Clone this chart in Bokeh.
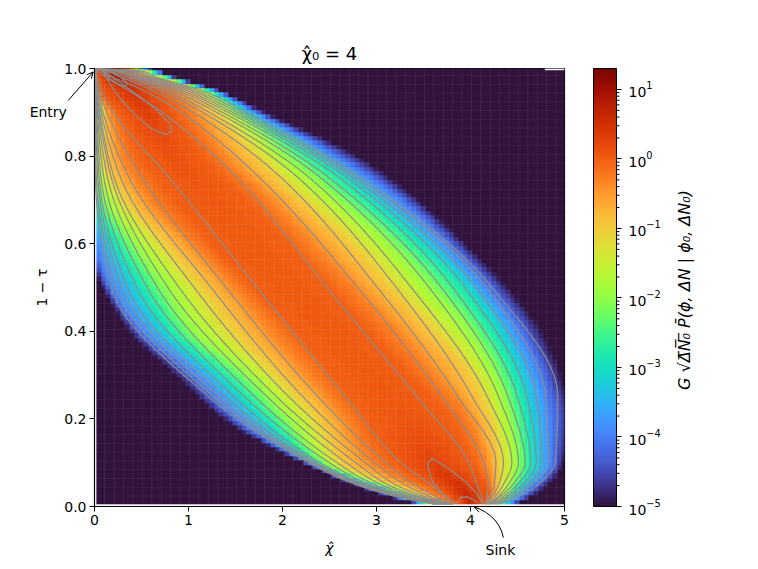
import numpy as np
from bokeh.core.properties import value
from bokeh.embed import file_html
from bokeh.layouts import column
from bokeh.resources import INLINE
from bokeh.plotting import figure
from bokeh.models import (LogColorMapper, ColorBar, LogTicker, LogTickFormatter, FixedTicker, Range1d)
from bokeh.palettes import Turbo256

TITLE = "χ̂₀ = 4"
XLABEL = "χ̂"
YLABEL = "1 − τ"
CBLABEL = "G √Δ̅N̅₀̅  P̄(ϕ, ΔN | ϕ₀, ΔN₀)"
X_TICKS = [0, 1, 2, 3, 4, 5]
Y_TICKS = [0.0, 0.2, 0.4, 0.6, 0.8, 1.0]
Y_TICK_LABELS = {0: "0.0", 0.2: "0.2", 0.4: "0.4", 0.6: "0.6", 0.8: "0.8", 1: "1.0"}
CB_LOW, CB_HIGH = 1e-5, 20
CB_DECADES = [1e-5, 1e-4, 1e-3, 1e-2, 1e-1, 1, 10]
CB_MANTISSAS = [2, 3, 4, 5, 6, 7, 8, 9]

# Heat map: for each row (value of 1-tau) the x where the
# field crosses 1e-5, 1e-4, 1e-3, 1e-2, 1e-1, 0.5, 1 going up, then 1, 0.5, ... 1e-5 going down.
field_levels = [1e-5, 1e-4, 1e-3, 1e-2, 1e-1, 0.5, 1.0]
field_rows = [0.005, 0.03, 0.1, 0.2, 0.3, 0.4, 0.5, 0.6, 0.7, 0.8, 0.9, 0.95, 0.98, 1.0]
field_peak = [5, 4, 2.0, 1.25, 1.12, 1.1, 1.1, 1.1, 1.15, 1.4, 2.2, 3.5, 8, 5]
field_left = [
    [3.47, 3.5, 3.55, 3.6, 3.7, 3.8, 3.88],
    [3.0, 3.1, 3.2, 3.3, 3.42, 3.58, 3.7],
    [2.2, 2.28, 2.35, 2.46, 2.62, 2.95, 3.2],
    [1.36, 1.52, 1.8, 2.05, 2.38, 2.68, 2.9],
    [0.85, 1.05, 1.33, 1.62, 1.95, 2.3, 2.55],
    [0.36, 0.5, 0.78, 1.05, 1.5, 1.9, 2.15],
    [0.08, 0.17, 0.47, 0.75, 1.15, 1.5, 1.7],
    [-0.15, 0.0, 0.2, 0.42, 0.75, 1.05, 1.25],
    [-0.4, -0.15, 0.0, 0.12, 0.33, 0.6, 0.86],
    [-0.35, -0.15, -0.03, 0.0, 0.1, 0.3, 0.5],
    [-0.3, -0.15, -0.05, 0.04, 0.1, 0.17, 0.25],
    [-0.3, -0.25, -0.2, -0.12, -0.05, 0.02, 0.05],
    [-0.3, -0.25, -0.2, -0.1, -0.05, -0.02, 0.02],
    [-0.3, -0.25, -0.2, -0.15, -0.1, -0.05, 0.0],
]
field_right = [
    [4.13, 4.16, 4.21, 4.27, 4.35, 4.42, 4.48],
    [4.2, 4.23, 4.3, 4.38, 4.47, 4.58, 4.72],
    [4.02, 4.16, 4.3, 4.5, 4.66, 4.86, 5.0],
    [3.77, 3.98, 4.2, 4.42, 4.62, 4.85, 5.1],
    [3.34, 3.6, 4.0, 4.27, 4.5, 4.74, 4.97],
    [2.9, 3.2, 3.6, 4.0, 4.28, 4.52, 4.76],
    [2.47, 2.75, 3.15, 3.58, 3.95, 4.18, 4.4],
    [2.03, 2.3, 2.72, 3.15, 3.48, 3.75, 3.95],
    [1.6, 1.85, 2.2, 2.6, 2.95, 3.25, 3.45],
    [1.15, 1.36, 1.71, 2.03, 2.35, 2.56, 2.8],
    [0.86, 1.04, 1.29, 1.5, 1.61, 1.71, 1.81],
    [0.72, 0.86, 1.04, 1.15, 1.21, 1.27, 1.32],
    [0.44, 0.52, 0.65, 0.72, 0.78, 0.82, 0.86],
    [0.3, 0.36, 0.42, 0.47, 0.52, 0.57, 0.62],
]

# Grey curves from Entry to Sink: x of each of the 25 curves at each value of 1-tau.
curve_rows = [1.0, 0.995, 0.98, 0.95, 0.9, 0.75, 0.5, 0.25, 0.1, 0.05, 0.02, 0.005]
curve_x = [
    [0.0] * 25,
    [0.0, 0.0, 0.0, 0.001, 0.001, 0.001, 0.001, 0.002, 0.002, 0.003, 0.004, 0.005, 0.01, 0.03,
     0.08, 0.12, 0.16, 0.2, 0.23, 0.26, 0.3, 0.33, 0.37, 0.42, 0.48],
    [0.001, 0.001, 0.002, 0.002, 0.003, 0.003, 0.004, 0.005, 0.006, 0.008, 0.01, 0.015, 0.03, 0.12,
     0.2, 0.28, 0.33, 0.38, 0.42, 0.46, 0.5, 0.54, 0.58, 0.62, 0.66],
    [0.002, 0.003, 0.004, 0.006, 0.008, 0.01, 0.012, 0.015, 0.02, 0.025, 0.035, 0.045, 0.08, 0.36,
     0.52, 0.62, 0.7, 0.76, 0.82, 0.88, 0.93, 0.98, 1.03, 1.08, 1.14],
    [0.004, 0.007, 0.01, 0.015, 0.02, 0.028, 0.035, 0.045, 0.055, 0.07, 0.09, 0.13, 0.2, 0.72,
     0.92, 1.05, 1.15, 1.22, 1.3, 1.36, 1.42, 1.47, 1.52, 1.57, 1.62],
    [0.01, 0.02, 0.035, 0.05, 0.07, 0.1, 0.14, 0.18, 0.21, 0.28, 0.37, 0.51, 0.8, 1.52,
     1.76, 1.99, 2.17, 2.29, 2.41, 2.5, 2.61, 2.69, 2.75, 2.8, 2.85],
    [0.18, 0.23, 0.29, 0.35, 0.45, 0.56, 0.67, 0.78, 0.9, 1.06, 1.24, 1.4, 1.73, 2.47,
     2.8, 3.01, 3.21, 3.37, 3.56, 3.69, 3.81, 3.94, 4.06, 4.17, 4.23],
    [1.22, 1.27, 1.33, 1.4, 1.49, 1.6, 1.71, 1.84, 1.94, 2.07, 2.22, 2.38, 2.67, 3.43,
     3.7, 3.87, 4.02, 4.18, 4.3, 4.4, 4.5, 4.6, 4.7, 4.8, 4.93],
    [2.28, 2.31, 2.33, 2.36, 2.4, 2.5, 2.58, 2.68, 2.78, 2.88, 2.98, 3.1, 3.26, 3.98,
     4.14, 4.27, 4.35, 4.44, 4.51, 4.58, 4.64, 4.7, 4.76, 4.83, 4.9],
    [2.78, 2.8, 2.82, 2.85, 2.88, 2.92, 2.98, 3.05, 3.12, 3.2, 3.3, 3.4, 3.58, 4.07,
     4.19, 4.25, 4.3, 4.35, 4.4, 4.45, 4.5, 4.55, 4.6, 4.65, 4.72],
    [3.26, 3.28, 3.3, 3.32, 3.35, 3.38, 3.42, 3.46, 3.5, 3.55, 3.6, 3.66, 3.75, 4.12,
     4.17, 4.2, 4.22, 4.25, 4.28, 4.3, 4.33, 4.36, 4.39, 4.43, 4.48],
    [3.62, 3.64, 3.66, 3.68, 3.7, 3.72, 3.74, 3.76, 3.78, 3.8, 3.8, 3.82, 3.87, 4.14,
     4.16, 4.17, 4.18, 4.19, 4.2, 4.21, 4.22, 4.24, 4.26, 4.28, 4.3],
]

# Small closed grey contours near Entry and Sink
entry_big_x = [0.08, 0.29, 0.47, 0.65, 0.79, 0.83, 0.755, 0.61, 0.44, 0.29, 0.19, 0.1, 0.08]
entry_big_t = [0.995, 0.965, 0.938, 0.908, 0.877, 0.858, 0.849, 0.862, 0.893, 0.927, 0.957, 0.988, 0.995]
entry_small_x = [0.08, 0.19, 0.28, 0.35, 0.33, 0.26, 0.17, 0.1, 0.08]
entry_small_t = [0.992, 0.992, 0.98, 0.966, 0.959, 0.963, 0.976, 0.99, 0.992]
sink_big_x = [3.82, 3.7, 3.59, 3.54, 3.59, 3.77, 3.95, 4.07, 4.12]
sink_big_t = [0.01, 0.029, 0.059, 0.097, 0.11, 0.086, 0.056, 0.029, 0.01]
sink_small_x = [3.88, 3.89, 3.96, 4.04, 4.07]
sink_small_t = [0.008, 0.021, 0.022, 0.015, 0.008]

# Faint seams of the cell mesh
seam_x = [0.01 + 0.1 * k for k in range(50)]
seam_t = [0.004 + 0.02 * k for k in range(50)]
white_bar_x = [4.79, 5.0]
white_bar_t = [0.9985, 0.9985]

# Annotations (in the chart's own units; outside the frame they fall on the margins)
entry_label = ("Entry", -0.69, 0.9)
entry_arrow_x = [-0.28, -0.014]
entry_arrow_t = [0.927, 0.992]
sink_label = ("Sink", 4.16, -0.1)
sink_curve_x = [4.35, 4.33, 4.30, 4.26, 4.21, 4.16, 4.11, 4.04]
sink_curve_t = [-0.071, -0.056, -0.043, -0.031, -0.021, -0.013, -0.007, -0.001]
cblabel_pos = (6.28, 0.5)
cb_bar_right_x = 5.553


def pchip(xk, yk, x):
    xk, yk = np.asarray(xk, float), np.asarray(yk, float)
    h = np.diff(xk)
    d = np.diff(yk) / h
    m = np.zeros_like(yk)
    for i in range(1, len(xk) - 1):
        if d[i - 1] * d[i] > 0:
            w1, w2 = 2 * h[i] + h[i - 1], h[i] + 2 * h[i - 1]
            m[i] = (w1 + w2) / (w1 / d[i - 1] + w2 / d[i])
    m[0], m[-1] = d[0], d[-1]
    i = np.clip(np.searchsorted(xk, x) - 1, 0, len(h) - 1)
    s = (x - xk[i]) / h[i]
    return ((2 * s**3 - 3 * s**2 + 1) * yk[i] + (s**3 - 2 * s**2 + s) * h[i] * m[i]
            + (-2 * s**3 + 3 * s**2) * yk[i + 1] + (s**3 - s**2) * h[i] * m[i + 1])


SX, SY = 94.0, 438.0  # pixels per data unit of the frame


def arrow_head(xs, ts, size=7.0, spread=0.45):
    dx, dy = (xs[-1] - xs[-2]) * SX, (ts[-1] - ts[-2]) * SY
    n = np.hypot(dx, dy)
    ux, uy = dx / n, dy / n
    hx, hy = [], []
    for sgn in (1, -1):
        a = sgn * spread
        bx = -(ux * np.cos(a) - uy * np.sin(a)) * size
        by = -(ux * np.sin(a) + uy * np.cos(a)) * size
        hx.append(xs[-1] + bx / SX)
        hy.append(ts[-1] + by / SY)
    return [hx[0], xs[-1], hx[1]], [hy[0], ts[-1], hy[1]]


# --- build the image
nx, ny = 100, 100
xc = 0.02 + 0.05 * (np.arange(nx) + 0.5)
tc = 0.005 + 0.01 * (np.arange(ny) + 0.5)
fl, fr = np.array(field_left), np.array(field_right)
logs = np.log10(field_levels)
Lc = np.array([pchip(field_rows, fl[:, k], tc) for k in range(7)]).T
Rc = np.array([pchip(field_rows, fr[:, k], tc) for k in range(7)]).T
Pk = pchip(field_rows, np.log10(field_peak), tc)
img = np.full((ny, nx), 1e-5)
for j in range(ny):
    kx = np.r_[Lc[j], (Lc[j, -1] + Rc[j, 0]) / 2, Rc[j]]
    kx = np.maximum.accumulate(kx)
    kv = np.r_[logs, Pk[j], logs[::-1]]
    img[j] = 10 ** np.interp(xc, kx, kv, left=-5, right=-5)

mapper = LogColorMapper(palette=Turbo256, low=CB_LOW, high=CB_HIGH)

PAGE_W, PAGE_H = 750, 565
p = figure(frame_width=470, frame_height=438, x_range=Range1d(0, 5), y_range=Range1d(0, 1),
           output_backend="svg", toolbar_location=None, tools="",
           min_border_left=94, min_border_top=68, min_border_bottom=60,
           min_border_right=PAGE_W - 94 - 470,
           background_fill_color="white", border_fill_color="white", frame_align=False)
p.image(image=[img], x=0.02, y=0.005, dw=5.0, dh=1.0, color_mapper=mapper)
p.segment(x0=seam_x, x1=seam_x, y0=[0.005] * len(seam_x), y1=[1.0] * len(seam_x),
          line_color="white", line_alpha=0.07, line_width=1)
p.segment(x0=[0.02] * len(seam_t), x1=[5.0] * len(seam_t), y0=seam_t, y1=seam_t,
          line_color="white", line_alpha=0.05, line_width=1)

cx = np.array(curve_x).T
t_fine = np.linspace(0.005, 1.0, 400)
rows_up = np.array(curve_rows)[::-1]
curves_x = [list(pchip(rows_up, c[::-1], t_fine)) for c in cx]
p.multi_line(xs=curves_x, ys=[list(t_fine)] * len(cx), line_color="#8c8c8c", line_width=1.2)
for xs_, ts_ in [(entry_big_x, entry_big_t), (entry_small_x, entry_small_t),
                 (sink_big_x, sink_big_t), (sink_small_x, sink_small_t)]:
    p.line(xs_, ts_, line_color="#8c8c8c", line_width=1.2)
p.line(white_bar_x, white_bar_t, line_color="#f2f2f2", line_width=2)

p.grid.visible = False
p.outline_line_color = "black"
p.outline_line_width = 1.2
p.outline_line_alpha = 1

p.xaxis.ticker = FixedTicker(ticks=X_TICKS)
p.yaxis.ticker = FixedTicker(ticks=Y_TICKS)
p.yaxis.major_label_overrides = Y_TICK_LABELS
p.xaxis.axis_label = XLABEL
p.yaxis.axis_label = YLABEL
for ax in (p.xaxis[0], p.yaxis[0]):
    ax.major_label_text_font = "DejaVu Sans"
    ax.major_label_text_font_size = "14px"
    ax.major_label_text_color = "black"
    ax.axis_label_text_font = "DejaVu Sans"
    ax.axis_label_text_font_size = "14px"
    ax.axis_label_text_font_style = "normal"
    ax.axis_label_text_color = "black"
    ax.axis_line_color = "black"
    ax.major_tick_line_color = "black"
    ax.major_tick_out = 5
    ax.major_tick_in = 0
    ax.minor_tick_line_color = None
    ax.major_label_standoff = 3
p.xaxis[0].axis_label_text_font_style = "italic"
p.xaxis[0].axis_label_standoff = 12
p.yaxis[0].axis_label_standoff = 11
p.yaxis.major_label_orientation = "horizontal"
p.title.text = TITLE
p.title.align = "center"
p.title.text_font = "DejaVu Sans"
p.title.text_font_size = "18px"
p.title.text_font_style = "normal"
p.title.text_color = "black"

cb = ColorBar(color_mapper=mapper, ticker=LogTicker(), formatter=LogTickFormatter(),
              width=23, height=438, padding=0, location=(29, 0),
              major_label_text_font="DejaVu Sans", major_label_text_font_size="14px",
              major_label_text_color="black", major_tick_line_color="black",
              major_tick_out=5, major_tick_in=0, minor_tick_line_color=None,
              bar_line_color="black", bar_line_width=1, label_standoff=7)
p.add_layout(cb, "right")

# A transparent sheet over the whole page, in the chart's units, for what lies outside the frame
q = figure(width=PAGE_W, height=PAGE_H, output_backend="svg", toolbar_location=None, tools="",
           x_axis_type=None, y_axis_type=None, min_border=0, frame_align=False,
           x_range=Range1d(-94 / SX, (PAGE_W - 94) / SX),
           y_range=Range1d((506 - PAGE_H) / SY, 506 / SY),
           background_fill_alpha=0, border_fill_alpha=0, outline_line_color=None,
           styles={"position": "absolute", "left": "0px", "top": "0px", "pointer-events": "none"})
q.grid.visible = False
for txt, lx, ly in (entry_label, sink_label):
    q.text(x=[lx], y=[ly], text=[txt], text_font=value("DejaVu Sans"), text_font_size="14px",
           text_color="black", text_baseline="middle")
q.text(x=[cblabel_pos[0]], y=[cblabel_pos[1]], text=[CBLABEL], angle=np.pi / 2,
       text_font=value("DejaVu Sans"), text_font_style="italic", text_color="black",
       text_font_size="16px", text_align="center", text_baseline="middle")
q.line(entry_arrow_x, entry_arrow_t, line_color="black", line_width=1)
hx, hy = arrow_head(entry_arrow_x, entry_arrow_t)
q.line(hx, hy, line_color="black", line_width=1)
q.line(sink_curve_x, sink_curve_t, line_color="black", line_width=1)
hx, hy = arrow_head(sink_curve_x, sink_curve_t)
q.line(hx, hy, line_color="black", line_width=1)
# minor ticks of the colour bar
cb_minor = [d * m for d in CB_DECADES for m in CB_MANTISSAS if d * m < CB_HIGH]
cb_t = [(np.log10(v) - np.log10(CB_LOW)) / (np.log10(CB_HIGH) - np.log10(CB_LOW)) for v in cb_minor]
q.segment(x0=[cb_bar_right_x] * len(cb_t), x1=[cb_bar_right_x + 3 / SX] * len(cb_t), y0=cb_t, y1=cb_t,
          line_color="black", line_width=1)

open("out.html", "w").write(file_html(column(p, q), INLINE))
